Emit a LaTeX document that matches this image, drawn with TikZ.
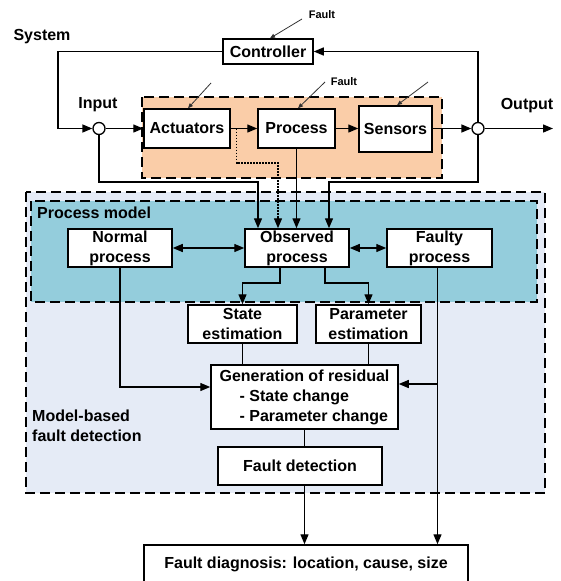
\documentclass[tikz,border=0pt]{standalone}
\usepackage{fontspec}
\setmainfont{Liberation Sans}
\usetikzlibrary{arrows.meta}
\definecolor{plantfill}{RGB}{250,205,168}
\definecolor{modelfill}{RGB}{148,205,220}
\definecolor{fdfill}{RGB}{229,235,246}
\begin{document}
\begin{tikzpicture}[x=1pt,y=-1pt,
  font=\fontsize{16}{20}\selectfont\bfseries,
  blockbox/.style={draw,line width=1.5pt,fill=white,inner sep=1pt,align=center},
  sumpt/.style={draw,circle,line width=1.3pt,fill=white,minimum size=12pt,inner sep=0pt},
  conn/.style={line width=1.4pt},
  arr/.style={conn,-{Triangle[length=10pt,width=8pt]}},
  dotline/.style={line width=1.3pt,dash pattern=on 1.6pt off 1.4pt},
  faultarr/.style={line width=0.8pt,draw=black!80,-{Triangle[length=5pt,width=4pt]}},
  faultlbl/.style={font=\fontsize{11}{13}\selectfont\bfseries},
  region/.style={line width=1.6pt,dash pattern=on 10pt off 5pt},
  lbl/.style={inner sep=0pt}]
\path[use as bounding box] (0,0) rectangle (561,581);

% nested regions
\fill[fdfill] (26,192) rectangle (545,493);
\draw[region] (26,192) rectangle (545,493);
\fill[modelfill] (31,201) rectangle (537,302);
\draw[region] (31,201) rectangle (537,302);
\fill[plantfill] (142,97) rectangle (442,178);
\draw[region] (142,97) rectangle (442,178);

% labels
\node[lbl] (system) at (42,37) {System};
\node[lbl] (inlbl) at (98,105) {Input};
\node[lbl] (outlbl) at (527,106) {Output};
\node[lbl,anchor=west] (pmlbl) at (37,213) {Process model};
\node[lbl,anchor=west,align=left] (mblbl) at (32,425.5) {Model-based\\fault detection};

% plant
\node[blockbox,minimum width=90pt,minimum height=25pt] (ctrl) at (268,51.5) {Controller};
\node[blockbox,minimum width=86pt,minimum height=39pt] (act) at (187,128.5) {Actuators};
\node[blockbox,minimum width=77pt,minimum height=39pt] (proc) at (296.5,128.5) {Process};
\node[blockbox,minimum width=73pt,minimum height=46pt] (sen) at (395.5,129) {Sensors};
\node[sumpt] (inc) at (99,128.5) {};
\node[sumpt] (outc) at (478,128.5) {};

% process model
\node[blockbox,minimum width=104pt,minimum height=38pt] (np) at (120,248) {Normal\\process};
\node[blockbox,minimum width=104pt,minimum height=38pt] (obs) at (297,248) {Observed\\process};
\node[blockbox,minimum width=105pt,minimum height=38pt] (fp) at (439.5,248) {Faulty\\process};

% detection chain
\node[blockbox,minimum width=109pt,minimum height=38pt] (st) at (242.5,324) {State\\estimation};
\node[blockbox,minimum width=105pt,minimum height=38pt] (pe) at (368.5,324) {Parameter\\estimation};
\node[blockbox,minimum width=187pt,minimum height=64pt,align=left] (gen) at (304.5,397)
  {Generation of residual\\\hspace{20pt}- State change\\\hspace{20pt}- Parameter change};
\node[blockbox,minimum width=164pt,minimum height=38pt] (fdet) at (300,466) {Fault detection};
\node[blockbox,minimum width=324pt,minimum height=38pt] (fd) at (306,564) {Fault diagnosis: location, cause, size};

% fault inputs
\node[faultlbl,lbl] (f1lbl) at (322,15) {Fault};
\node[faultlbl,lbl] (f2lbl) at (344,82) {Fault};
\coordinate (fa0) at (302,19);
\coordinate (fa1) at (211,83);
\coordinate (fa2) at (325,82);
\coordinate (fa3) at (428,82);
\draw[faultarr] (fa0) -- ([xshift=2pt]ctrl.north);
\draw[faultarr] (fa1) -- ([xshift=1pt]act.north);
\draw[faultarr] (fa2) -- ([xshift=1.5pt]proc.north);
\draw[faultarr] (fa3) -- ([xshift=1.5pt]sen.north);

% signal path
\draw[arr] (inc.east) -- (act.west);
\draw[arr] (act.east) -- (proc.west);
\draw[arr] (proc.east) -- (proc.east -| sen.west);
\draw[arr] (sen.east |- outc.west) -- (outc.west);
\coordinate (outend) at (553,128.5);
\draw[arr] (outc.east) -- (outend);

% feedback loop
\coordinate (fbL) at (58,128.5);
\draw[arr] (outc.north) |- (ctrl.east);
\draw[arr] (ctrl.west) -| (fbL) -- (inc.west);

% measurements into the observed process
\coordinate (busY) at (0,182);
\coordinate (dotY) at (0,163);
\coordinate (o1) at ([xshift=-39pt]obs.north);
\coordinate (o2) at ([xshift=-19pt]obs.north);
\coordinate (o4) at ([xshift=32pt]obs.north);
\coordinate (d0) at ([xshift=6pt]act.east);
\draw[arr] (inc.south) |- (o1 |- busY) -- (o1);
\draw[dotline] (d0) |- (o2 |- dotY) -- ([yshift=10pt]o2);
\draw[arr] ([yshift=10pt]o2) -- (o2);
\draw[arr] (proc.south) -- (proc.south |- obs.north);
\draw[arr] (outc.south) |- (o4 |- busY) -- (o4);

% model comparisons
\draw[conn,{Triangle[length=10pt,width=8pt]}-{Triangle[length=10pt,width=8pt]}] (np.east) -- (obs.west);
\draw[conn,{Triangle[length=10pt,width=8pt]}-{Triangle[length=10pt,width=8pt]}] (obs.east) -- (fp.west);

% estimation
\coordinate (tY) at (0,283);
\coordinate (ob1) at ([xshift=-17pt]obs.south);
\coordinate (ob2) at ([xshift=28pt]obs.south);
\draw[arr] (ob1) |- (st.north |- tY) -- (st.north);
\draw[arr] (ob2) |- (pe.north |- tY) -- (pe.north);
\draw[conn] (st.south) -- (st.south |- gen.north);
\draw[conn] (pe.south) -- (pe.south |- gen.north);

% residuals
\coordinate (g1) at ([yshift=10pt]gen.west);
\coordinate (g2) at ([yshift=13pt]gen.east);
\coordinate (fpo) at ([xshift=-2pt]fp.south);
\draw[arr] (np.south) |- (g1);
\draw[arr] (fpo) -- (fpo |- fd.north);
\draw[arr] (fpo |- g2) -- (g2);
\draw[conn] (gen.south) -- (gen.south |- fdet.north);
\draw[arr] (gen.south |- fdet.south) -- (gen.south |- fd.north);
\end{tikzpicture}
\end{document}
